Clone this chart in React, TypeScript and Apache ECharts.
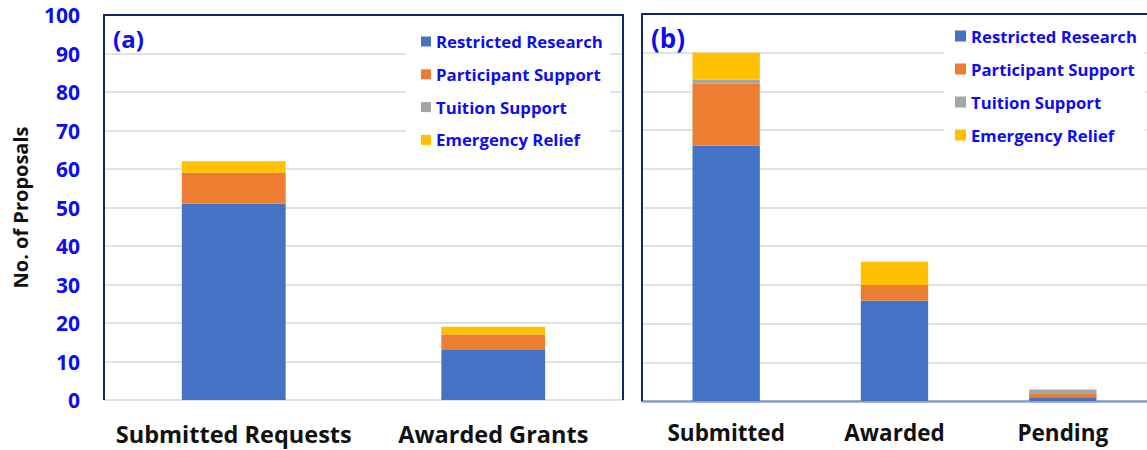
import React, { useEffect, useRef } from "react";
import * as echarts from "echarts";

const seriesNames = ["Restricted Research", "Participant Support", "Tuition Support", "Emergency Relief"];
const seriesColors = ["#4472c4", "#ed7d31", "#a5a5a5", "#ffc000"];

const categoriesA = ["Submitted Requests", "Awarded Grants"];
const restrictedA = [51, 13];
const participantA = [8, 4];
const tuitionA = [0, 0];
const emergencyA = [3, 2];

const categoriesB = ["Submitted", "Awarded", "Pending"];
const restrictedB = [66, 26, 1];
const participantB = [16, 4, 1];
const tuitionB = [1, 0, 1];
const emergencyB = [7, 6, 0];

const yMin = 0;
const yMax = 100;
const yInterval = 10;

const yTitle = "No. of Proposals";
const panelLabels = ["(a)", "(b)"];

const FONT = "'Open Sans', Lato, sans-serif";
const BLUE_TEXT = "#0d0df0";
const NAVY = "#16246a";

export default function App() {
  const ref = useRef<HTMLDivElement>(null);

  useEffect(() => {
    if (!ref.current) return;
    const chart = echarts.init(ref.current, undefined, { renderer: "svg" });

    const dataA = [restrictedA, participantA, tuitionA, emergencyA];
    const dataB = [restrictedB, participantB, tuitionB, emergencyB];

    const mkSeries = (data: number[][], idx: number, stack: string) =>
      data.map((d, i) => ({
        name: seriesNames[i],
        type: "bar",
        stack,
        xAxisIndex: idx,
        yAxisIndex: idx,
        barWidth: "40%",
        data: d,
        itemStyle: { color: seriesColors[i] },
        emphasis: { disabled: true },
      }));

    const splitLine = { show: true, lineStyle: { color: "#d9d9d9", width: 1.5 } };

    const legendBase = {
      orient: "vertical",
      icon: "rect",
      backgroundColor: "#ffffff",
      selectedMode: false,
      data: seriesNames,
    };

    chart.setOption({
      animation: false,
      grid: [
        { left: 104, top: 15, width: 519, height: 385 },
        { left: 642, top: 14, width: 507, height: 387 },
      ],
      xAxis: [
        {
          type: "category",
          gridIndex: 0,
          data: categoriesA,
          axisLine: { show: false },
          axisTick: { show: false },
          axisLabel: { interval: 0, fontFamily: FONT, fontWeight: "bold", fontSize: 23.5, color: "#111", margin: 22 },
        },
        {
          type: "category",
          gridIndex: 1,
          data: categoriesB,
          axisLine: { show: true, lineStyle: { color: "#8a9bc9", width: 2.5 } },
          axisTick: { show: false },
          axisLabel: { interval: 0, fontFamily: FONT, fontWeight: "bold", fontSize: 22.5, color: "#111", margin: 20 },
        },
      ],
      yAxis: [
        {
          type: "value",
          gridIndex: 0,
          min: yMin,
          max: yMax,
          interval: yInterval,
          axisLine: { show: false },
          axisTick: { show: false },
          splitLine,
          axisLabel: { fontFamily: FONT, fontWeight: "bold", fontSize: 21, color: BLUE_TEXT, margin: 24 },
          name: yTitle,
          nameLocation: "middle",
          nameGap: 74,
          nameTextStyle: { fontFamily: FONT, fontWeight: "bold", fontSize: 20, color: "#111" },
        },
        {
          type: "value",
          gridIndex: 1,
          min: yMin,
          max: yMax,
          interval: yInterval,
          axisLine: { show: false },
          axisTick: { show: false },
          splitLine,
          axisLabel: { show: false },
        },
      ],
      legend: [
        {
          ...legendBase,
          left: 406,
          top: 25,
          padding: [8, 7, 10, 15],
          itemWidth: 10,
          itemHeight: 10,
          itemGap: 15.8,
          textStyle: { fontFamily: FONT, fontWeight: "bold", fontSize: 16.8, lineHeight: 17, color: BLUE_TEXT },
        },
        {
          ...legendBase,
          left: 944,
          top: 20,
          padding: [7, 8, 12, 11],
          itemWidth: 11,
          itemHeight: 11,
          itemGap: 15,
          textStyle: { fontFamily: FONT, fontWeight: "bold", fontSize: 16.7, lineHeight: 18, color: BLUE_TEXT },
        },
      ],
      graphic: [
        {
          type: "polyline",
          z: 100,
          shape: { points: [[104, 400], [104, 15], [623, 15], [623, 400]] },
          style: { stroke: NAVY, lineWidth: 2, fill: null },
        },
        {
          type: "polyline",
          z: 100,
          shape: { points: [[642, 401], [642, 14], [1147, 14]] },
          style: { stroke: NAVY, lineWidth: 2, fill: null },
        },
        {
          type: "text",
          z: 100,
          x: 113,
          y: 38,
          style: {
            text: panelLabels[0],
            font: `bold 24px ${FONT}`,
            fill: BLUE_TEXT,
            verticalAlign: "middle",
          },
        },
        {
          type: "text",
          z: 100,
          x: 651,
          y: 38,
          style: {
            text: panelLabels[1],
            font: `bold 26px ${FONT}`,
            fill: BLUE_TEXT,
            verticalAlign: "middle",
          },
        },
      ],
      series: [...mkSeries(dataA, 0, "a"), ...mkSeries(dataB, 1, "b")],
    });

    return () => chart.dispose();
  }, []);

  return (
    <div
      ref={ref}
      style={{ position: "absolute", left: 0, top: 0, width: 1147, height: 450, background: "#fff" }}
    />
  );
}
